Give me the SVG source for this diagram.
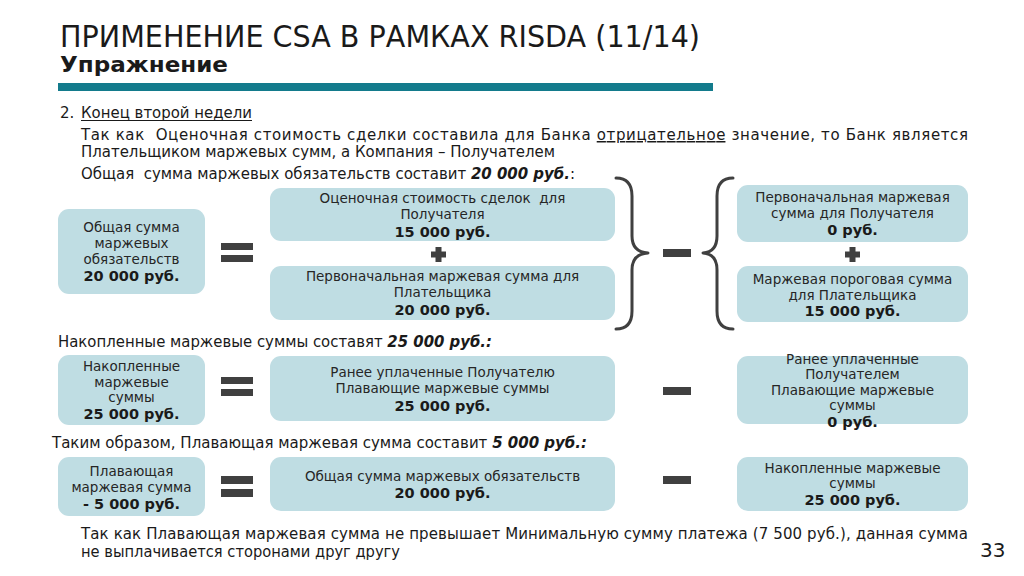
<svg xmlns="http://www.w3.org/2000/svg" width="1024" height="576" viewBox="0 0 1024 576">
<style>
text{font-family:"DejaVu Sans","Liberation Sans",sans-serif;fill:#1a1a1a;white-space:pre}
.t{font-size:15px}
.b{font-size:13.5px;text-anchor:middle;fill:#262626}
.bb{font-size:14.5px;font-weight:bold;text-anchor:middle}
.box{fill:#bfdde3}
.op{fill:#404040}
.br{fill:none;stroke:#404040;stroke-width:3;stroke-linecap:round;stroke-linejoin:round}
</style>
<rect width="1024" height="576" fill="#ffffff"/>
<g id="header">
<text x="60" y="47" style="font-size:30px" textLength="640" lengthAdjust="spacingAndGlyphs">ПРИМЕНЕНИЕ CSA В РАМКАХ RISDA (11/14)</text>
<text x="60" y="72" style="font-size:22px;font-weight:bold" textLength="168" lengthAdjust="spacingAndGlyphs">Упражнение</text>
<rect x="58" y="83" width="655" height="8" fill="#137b8c"/>
</g>
<g id="intro">
<text x="60" y="118" class="t">2.</text>
<text x="81" y="118" class="t" textLength="171" lengthAdjust="spacingAndGlyphs">Конец второй недели</text>
<rect x="81" y="120" width="171" height="1" fill="#1a1a1a"/>
<text x="81" y="140" class="t" textLength="887" lengthAdjust="spacing" xml:space="preserve">Так как  Оценочная стоимость сделки составила для Банка <tspan text-decoration="underline">отрицательное</tspan> значение, то Банк является</text>
<text x="81" y="157" class="t" textLength="474" lengthAdjust="spacingAndGlyphs">Плательщиком маржевых сумм, а Компания – Получателем</text>
<text x="81" y="179" class="t" textLength="494" lengthAdjust="spacingAndGlyphs" xml:space="preserve">Общая  сумма маржевых обязательств составит <tspan font-weight="bold" font-style="italic">20 000 руб.</tspan>:</text>
<text x="58" y="347" class="t" textLength="434" lengthAdjust="spacingAndGlyphs">Накопленные маржевые суммы составят <tspan font-weight="bold" font-style="italic">25 000 руб.:</tspan></text>
<text x="52" y="448" class="t" textLength="535" lengthAdjust="spacingAndGlyphs">Таким образом, Плавающая маржевая сумма составит <tspan font-weight="bold" font-style="italic">5 000 руб.:</tspan></text>
<text x="81" y="539" class="t" textLength="887" lengthAdjust="spacing">Так как Плавающая маржевая сумма не превышает Минимальную сумму платежа (7 500 руб.), данная сумма</text>
<text x="81" y="557" class="t" textLength="319" lengthAdjust="spacingAndGlyphs">не выплачивается сторонами друг другу</text>
<text x="980" y="557" style="font-size:20px">33</text>
</g>
<g id="node-total">
<rect class="box" x="58" y="209" width="147" height="85" rx="11"/>
<text class="b" x="131.5" y="232">Общая сумма</text>
<text class="b" x="131.5" y="248">маржевых</text>
<text class="b" x="131.5" y="264">обязательств</text>
<text class="bb" x="131.5" y="281">20 000 руб.</text>
</g>
<g id="node-mtm">
<rect class="box" x="270" y="188" width="345" height="53" rx="11"/>
<text class="b" x="442.5" y="203" xml:space="preserve">Оценочная стоимость сделок  для</text>
<text class="b" x="442.5" y="219">Получателя</text>
<text class="bb" x="442.5" y="237">15 000 руб.</text>
</g>
<g id="node-im-payer">
<rect class="box" x="270" y="266" width="345" height="54" rx="11"/>
<text class="b" x="442.5" y="281">Первоначальная маржевая сумма для</text>
<text class="b" x="442.5" y="297">Плательщика</text>
<text class="bb" x="442.5" y="315">20 000 руб.</text>
</g>
<g id="node-im-recv">
<rect class="box" x="737" y="185" width="231" height="57" rx="11"/>
<text class="b" x="852.5" y="202">Первоначальная маржевая</text>
<text class="b" x="852.5" y="218">сумма для Получателя</text>
<text class="bb" x="852.5" y="235">0 руб.</text>
</g>
<g id="node-threshold">
<rect class="box" x="737" y="266" width="231" height="56" rx="11"/>
<text class="b" x="852.5" y="284">Маржевая пороговая сумма</text>
<text class="b" x="852.5" y="300">для Плательщика</text>
<text class="bb" x="852.5" y="316">15 000 руб.</text>
</g>
<g id="node-accum">
<rect class="box" x="58" y="355" width="147" height="70" rx="11"/>
<text class="b" x="131.5" y="371">Накопленные</text>
<text class="b" x="131.5" y="387">маржевые</text>
<text class="b" x="131.5" y="402">суммы</text>
<text class="bb" x="131.5" y="419">25 000 руб.</text>
</g>
<g id="node-paid-recv">
<rect class="box" x="270" y="356" width="345" height="65" rx="11"/>
<text class="b" x="442.5" y="377">Ранее уплаченные Получателю</text>
<text class="b" x="442.5" y="393">Плавающие маржевые суммы</text>
<text class="bb" x="442.5" y="411">25 000 руб.</text>
</g>
<g id="node-paid-by-recv">
<rect class="box" x="737" y="356" width="231" height="68" rx="11"/>
<text class="b" x="852.5" y="364">Ранее уплаченные</text>
<text class="b" x="852.5" y="379">Получателем</text>
<text class="b" x="852.5" y="395">Плавающие маржевые</text>
<text class="b" x="852.5" y="410">суммы</text>
<text class="bb" x="852.5" y="427">0 руб.</text>
</g>
<g id="node-float">
<rect class="box" x="58" y="457" width="147" height="59" rx="11"/>
<text class="b" x="131.5" y="476">Плавающая</text>
<text class="b" x="131.5" y="492">маржевая сумма</text>
<text class="bb" x="131.5" y="509">- 5 000 руб.</text>
</g>
<g id="node-total2">
<rect class="box" x="270" y="457" width="345" height="54" rx="11"/>
<text class="b" x="442.5" y="481">Общая сумма маржевых обязательств</text>
<text class="bb" x="442.5" y="498">20 000 руб.</text>
</g>
<g id="node-accum2">
<rect class="box" x="737" y="457" width="231" height="54" rx="11"/>
<text class="b" x="852.5" y="473">Накопленные маржевые</text>
<text class="b" x="852.5" y="488">суммы</text>
<text class="bb" x="852.5" y="505">25 000 руб.</text>
</g>
<g id="connectors">
<rect class="op" x="221" y="243" width="32" height="7"/>
<rect class="op" x="221" y="255" width="32" height="7"/>
<rect class="op" x="221" y="377" width="32" height="7"/>
<rect class="op" x="221" y="389" width="32" height="7"/>
<rect class="op" x="221" y="476" width="32" height="8"/>
<rect class="op" x="221" y="489" width="32" height="8"/>
<path class="op" d="M435.5,247h6v4.5h4.5v6h-4.5v4.5h-6v-4.5h-4.5v-6h4.5z"/>
<path class="op" d="M849.5,247h6v4.5h4.5v6h-4.5v4.5h-6v-4.5h-4.5v-6h4.5z"/>
<rect class="op" x="663" y="249" width="28" height="8"/>
<rect class="op" x="663" y="387" width="28" height="8"/>
<rect class="op" x="663" y="476" width="28" height="8"/>
<path class="br" d="M616,178 Q632,178 632,196 L632,236 Q632,252 648,253 Q632,254 632,270 L632,311 Q632,329 616,329"/>
<path class="br" d="M733,178 Q717,178 717,196 L717,236 Q717,252 703,253 Q717,254 717,270 L717,311 Q717,329 733,329"/>
</g>
</svg>
